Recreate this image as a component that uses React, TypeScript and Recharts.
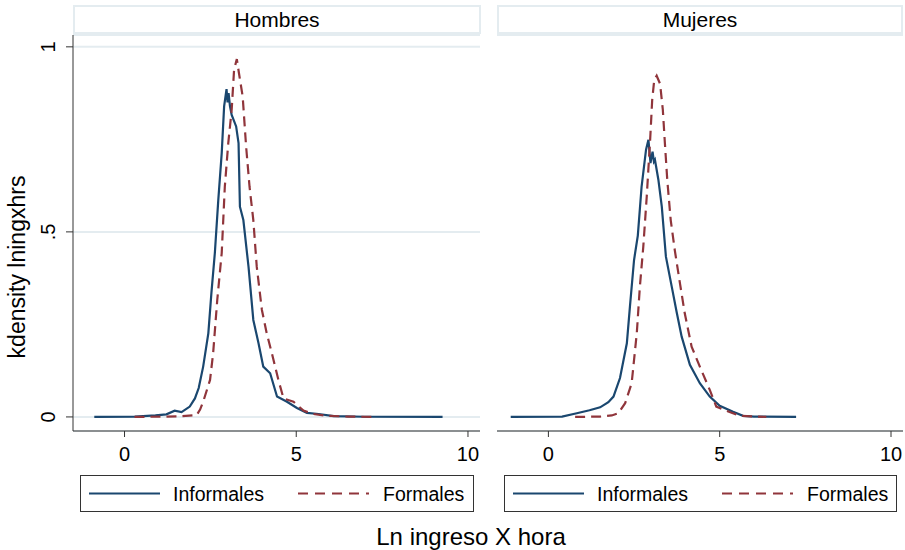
import { LineChart, Line, XAxis, YAxis, CartesianGrid } from "recharts";

// kernel density points, [ln income per hour, density]
const hombresInformales: [number, number][] = [
  [-0.88, 0], [0.3, 0.001], [0.9, 0.004], [1.22, 0.007], [1.46, 0.017], [1.66, 0.013],
  [1.9, 0.028], [2.05, 0.05], [2.16, 0.078], [2.29, 0.136], [2.44, 0.226], [2.53, 0.335],
  [2.63, 0.443], [2.73, 0.586], [2.83, 0.713], [2.9, 0.839], [2.97, 0.886], [3.0, 0.85],
  [3.03, 0.875], [3.07, 0.84], [3.12, 0.816], [3.25, 0.785], [3.32, 0.74], [3.36, 0.568],
  [3.46, 0.532], [3.61, 0.406], [3.75, 0.262], [3.9, 0.2], [4.04, 0.136], [4.24, 0.118],
  [4.44, 0.055], [4.73, 0.041], [5.02, 0.024], [5.31, 0.011], [5.65, 0.008], [6.09, 0.002],
  [7.0, 0.0005], [9.26, 0],
];

const hombresFormales: [number, number][] = [
  [0.29, 0], [1.2, 0.001], [1.62, 0.002], [2.1, 0.005], [2.2, 0.02], [2.29, 0.041],
  [2.49, 0.1], [2.58, 0.172], [2.7, 0.316], [2.83, 0.443], [2.92, 0.622], [3.02, 0.739],
  [3.12, 0.83], [3.19, 0.938], [3.27, 0.967], [3.33, 0.93], [3.44, 0.866], [3.54, 0.731],
  [3.64, 0.622], [3.75, 0.532], [3.85, 0.406], [4.0, 0.289], [4.14, 0.226], [4.29, 0.172],
  [4.48, 0.1], [4.63, 0.05], [4.92, 0.041], [5.21, 0.017], [5.5, 0.008], [5.9, 0.003],
  [6.5, 0.001], [7.21, 0],
];

const mujeresInformales: [number, number][] = [
  [-1.1, 0], [0.4, 0.001], [0.83, 0.01], [1.2, 0.018], [1.51, 0.026], [1.75, 0.04],
  [1.9, 0.055], [2.09, 0.105], [2.29, 0.199], [2.38, 0.298], [2.5, 0.424], [2.61, 0.49],
  [2.72, 0.622], [2.85, 0.722], [2.92, 0.749], [2.98, 0.686], [3.04, 0.717], [3.08, 0.69],
  [3.11, 0.695], [3.21, 0.641], [3.31, 0.568], [3.43, 0.433], [3.6, 0.352], [3.74, 0.285],
  [3.89, 0.217], [4.13, 0.141], [4.42, 0.091], [4.71, 0.055], [5.0, 0.03], [5.39, 0.014],
  [5.68, 0.003], [6.0, 0.001], [7.23, 0],
];

const mujeresFormales: [number, number][] = [
  [0.78, 0], [1.51, 0.001], [1.85, 0.004], [2.04, 0.01], [2.24, 0.037], [2.43, 0.091],
  [2.58, 0.226], [2.67, 0.352], [2.77, 0.46], [2.87, 0.595], [2.97, 0.749], [3.03, 0.857],
  [3.09, 0.911], [3.16, 0.922], [3.26, 0.9], [3.34, 0.83], [3.4, 0.74], [3.47, 0.64],
  [3.57, 0.532], [3.69, 0.45], [3.84, 0.361], [3.98, 0.28], [4.18, 0.19], [4.42, 0.136],
  [4.71, 0.073], [4.9, 0.028], [5.19, 0.017], [5.58, 0.003], [6.36, 0],
];

const xTicks = [0, 5, 10];
const yTicks = [0, 0.5, 1];
const yTickLabels: Record<string, string> = { "0": "0", "0.5": ".5", "1": "1" };
const seriesNames = ["Informales", "Formales"];

const NAVY = "#1a476f";
const MAROON = "#90353b";
const GRID = "#e4ecf0";
const AXIS = "#333";
const FONT = '"Liberation Sans", Arial, sans-serif';

const toPoints = (pairs: [number, number][]) => pairs.map(([x, y]) => ({ x, y }));

function YTick(props: any) {
  const { x, y, payload } = props;
  return (
    <text
      x={x}
      y={y}
      transform={`rotate(-90, ${x}, ${y})`}
      textAnchor="middle"
      fontSize={20}
      fontFamily={FONT}
      fill="#000"
    >
      {yTickLabels[String(payload.value)]}
    </text>
  );
}

interface PanelProps {
  left: number;
  width: number;
  informales: [number, number][];
  formales: [number, number][];
  showYAxis: boolean;
}

function Panel({ left, width, informales, formales, showYAxis }: PanelProps) {
  return (
    <div style={{ position: "absolute", left, top: 0 }}>
      <LineChart
        width={width}
        height={470}
        margin={{ top: 35, right: showYAxis ? 10 : 2, left: 0, bottom: 0 }}
      >
        <CartesianGrid vertical={false} stroke={GRID} strokeWidth={2} />
        <XAxis
          type="number"
          dataKey="x"
          domain={[-1.5, 10.35]}
          ticks={xTicks}
          allowDataOverflow
          height={39}
          tickSize={6}
          tickMargin={10}
          stroke={AXIS}
          tick={{ fill: "#000", fontSize: 20, fontFamily: FONT }}
        />
        {showYAxis ? (
          <YAxis
            type="number"
            domain={[-0.038, 1.032]}
            ticks={yTicks}
            allowDataOverflow
            width={73}
            tickSize={7}
            tickMargin={11}
            stroke={AXIS}
            tick={<YTick />}
          />
        ) : (
          <YAxis
            type="number"
            domain={[-0.038, 1.032]}
            ticks={yTicks}
            allowDataOverflow
            width={7}
            tick={false}
            tickLine={false}
            axisLine={false}
          />
        )}
        <Line
          data={toPoints(informales)}
          dataKey="y"
          type="linear"
          stroke={NAVY}
          strokeWidth={2.2}
          dot={false}
          isAnimationActive={false}
        />
        <Line
          data={toPoints(formales)}
          dataKey="y"
          type="linear"
          stroke={MAROON}
          strokeWidth={2.2}
          strokeDasharray="10 6"
          dot={false}
          isAnimationActive={false}
        />
      </LineChart>
    </div>
  );
}

function Header({ left, width, title }: { left: number; width: number; title: string }) {
  return (
    <div
      style={{
        position: "absolute",
        left,
        top: 5,
        width,
        height: 29,
        boxSizing: "border-box",
        border: `2px solid ${GRID}`,
        display: "flex",
        alignItems: "center",
        justifyContent: "center",
        fontFamily: FONT,
        fontSize: 21,
        lineHeight: "21px",
      }}
    >
      {title}
    </div>
  );
}

function LegendBox({ left, width }: { left: number; width: number }) {
  return (
    <div
      style={{
        position: "absolute",
        left,
        top: 475,
        width,
        height: 37,
        boxSizing: "border-box",
        border: `1px solid ${AXIS}`,
        fontFamily: FONT,
        fontSize: 19.5,
      }}
    >
      <svg width={width} height={35} style={{ position: "absolute", left: 0, top: 0 }}>
        <line x1={8} x2={79} y1={17.5} y2={17.5} stroke={NAVY} strokeWidth={2} />
        <line
          x1={217}
          x2={288}
          y1={17.5}
          y2={17.5}
          stroke={MAROON}
          strokeWidth={2}
          strokeDasharray="10 7"
        />
        <text x={92} y={25} fontSize={19.5} fontFamily={FONT} fill="#000">
          {seriesNames[0]}
        </text>
        <text x={302} y={25} fontSize={19.5} fontFamily={FONT} fill="#000">
          {seriesNames[1]}
        </text>
      </svg>
    </div>
  );
}

export default function App() {
  return (
    <div
      style={{
        position: "absolute",
        left: 0,
        top: 0,
        width: 905,
        height: 550,
        background: "#fff",
        fontFamily: FONT,
      }}
    >
      <Header left={73} width={408} title="Hombres" />
      <Header left={497} width={406} title="Mujeres" />
      <Panel left={0} width={490} informales={hombresInformales} formales={hombresFormales} showYAxis />
      <Panel left={490} width={415} informales={mujeresInformales} formales={mujeresFormales} showYAxis={false} />
      <LegendBox left={80} width={394} />
      <LegendBox left={504} width={393} />
      <div
        style={{
          position: "absolute",
          left: 17,
          top: 267,
          transform: "translate(-50%, -50%) rotate(-90deg)",
          whiteSpace: "nowrap",
          fontSize: 23,
          lineHeight: "23px",
        }}
      >
        kdensity lningxhrs
      </div>
      <div
        style={{
          position: "absolute",
          left: 471,
          top: 525,
          transform: "translateX(-50%)",
          whiteSpace: "nowrap",
          fontSize: 24,
          lineHeight: "24px",
        }}
      >
        Ln ingreso X hora
      </div>
    </div>
  );
}
